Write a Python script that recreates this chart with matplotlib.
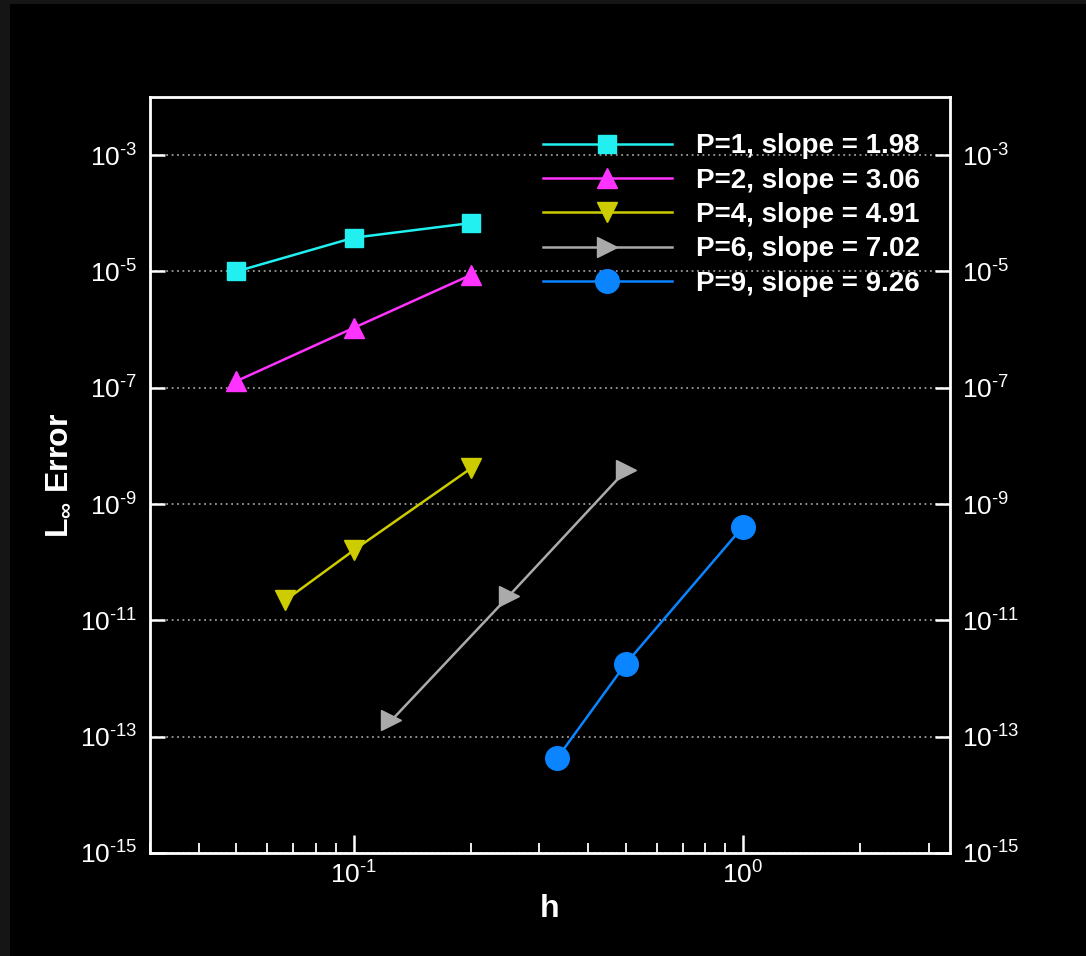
import numpy as np
import matplotlib
matplotlib.use("Agg")
import matplotlib.pyplot as plt
import matplotlib.ticker as mticker
from matplotlib.patches import Rectangle

plt.rcParams['font.family'] = ['Liberation Sans', 'DejaVu Sans']
plt.rcParams['mathtext.fontset'] = 'custom'
plt.rcParams['mathtext.rm'] = 'Liberation Sans'
plt.rcParams['mathtext.it'] = 'Liberation Sans'
plt.rcParams['mathtext.bf'] = 'Liberation Sans:bold'

# Data
h_p1 = [0.05, 0.1, 0.2]
err_p1 = [1.0e-5, 3.8e-5, 6.8e-5]
h_p2 = [0.05, 0.1, 0.2]
err_p2 = [1.3e-7, 1.07e-6, 8.7e-6]
h_p4 = [0.0667, 0.1, 0.2]
err_p4 = [2.2e-11, 1.6e-10, 4.1e-9]
h_p6 = [0.125, 0.25, 0.5]
err_p6 = [1.9e-13, 2.6e-11, 3.8e-9]
h_p9 = [0.3333, 0.5, 1.0]
err_p9 = [4.3e-14, 1.8e-12, 4.1e-10]

labels = ["P=1, slope = 1.98", "P=2, slope = 3.06", "P=4, slope = 4.91",
          "P=6, slope = 7.02", "P=9, slope = 9.26"]
colors = ["#22F0F0", "#FF33FF", "#CCCC00", "#AAAAAA", "#0A84FF"]
markers = ["s", "^", "v", ">", "o"]
msizes = [13, 14, 14, 15, 17]


def pow10(v, pos):
    e = int(round(np.log10(v)))
    if e < 0:
        return r"$10^{\text{-%d}}$" % (-e)
    return r"$10^{%d}$" % e


fig = plt.figure(figsize=(10.86, 9.56), dpi=100, facecolor="#151515")
fig.patches.append(Rectangle((10 / 1086, 0), 1, 1 - 4 / 956, transform=fig.transFigure,
                             facecolor="black", edgecolor="none", zorder=-1))
ax = fig.add_axes([150 / 1086, 1 - 853 / 956, 800 / 1086, 756 / 956])
ax.set_facecolor("black")

series = [(h_p1, err_p1), (h_p2, err_p2), (h_p4, err_p4), (h_p6, err_p6), (h_p9, err_p9)]
for (hx, ey), lab, c, m, ms in zip(series, labels, colors, markers, msizes):
    ax.plot(hx, ey, color=c, lw=1.8, marker=m, markersize=ms, markeredgecolor=c,
            markerfacecolor=c, label=lab, zorder=3)

ax.set_xscale("log")
ax.set_yscale("log")
ax.set_xlim(0.03, 3.4)
ax.set_ylim(1e-15, 1e-2)

ax.yaxis.set_major_locator(mticker.FixedLocator(10.0 ** np.arange(-15, -2, 2)))
ax.yaxis.set_minor_locator(mticker.NullLocator())
ax.yaxis.set_major_formatter(mticker.FuncFormatter(pow10))
ax.xaxis.set_major_locator(mticker.LogLocator(base=10))
ax.xaxis.set_major_formatter(mticker.FuncFormatter(pow10))
ax.xaxis.set_minor_locator(mticker.LogLocator(base=10, subs=np.arange(2, 10)))
ax.xaxis.set_minor_formatter(mticker.NullFormatter())

for s in ax.spines.values():
    s.set_color("white")
    s.set_linewidth(2.0)

ax.tick_params(axis="y", which="major", direction="in", length=11, width=1.8,
               colors="white", labelsize=19, left=True, right=True,
               labelleft=True, labelright=True, pad=9)
ax.tick_params(axis="x", which="major", direction="in", length=13, width=1.8,
               colors="white", labelsize=19, top=False, pad=6)
ax.tick_params(axis="x", which="minor", direction="in", length=7, width=1.3,
               colors="white", top=False)

ax.yaxis.grid(True, which="major", linestyle=(0, (1, 2)), color="#9a9a9a", lw=1.3)
ax.set_axisbelow(True)

ax.set_xlabel("h", color="white", fontsize=23, fontweight="bold", labelpad=4)
ax.set_ylabel(r"L$_{\mathbf{\infty}}$ Error", color="white", fontsize=23,
              fontweight="bold", labelpad=5)

leg = ax.legend(loc="upper left", bbox_to_anchor=(0.491, 0.952), frameon=False,
                handlelength=4.65, handletextpad=0.85, labelspacing=0.3,
                borderpad=0, borderaxespad=0,
                prop={"size": 20, "weight": "bold"})
for t in leg.get_texts():
    t.set_color("white")

fig.savefig("out.png", dpi=100, facecolor=fig.get_facecolor())
